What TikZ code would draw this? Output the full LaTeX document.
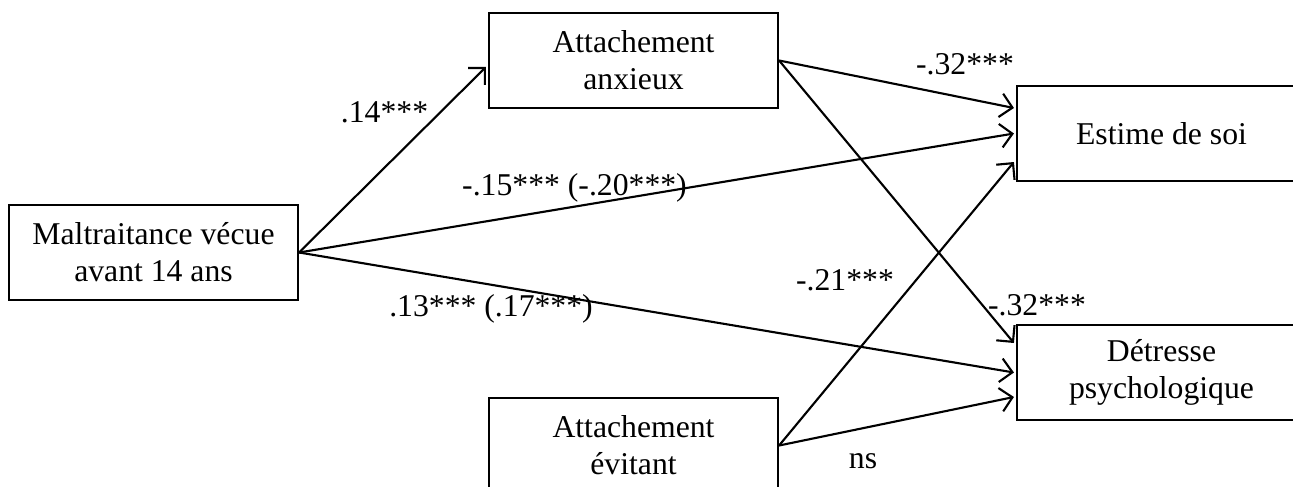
\documentclass[tikz,border=0pt]{standalone}
\usepackage{fontspec}
\setmainfont{Liberation Serif}
\usetikzlibrary{arrows.meta,calc}

\begin{document}
\begin{tikzpicture}[x=0.3785pt,y=-0.3785pt,
    box/.style={draw,line width=0.8pt,minimum width=109.4pt,minimum height=36pt,
        align=center,inner sep=0pt,font=\fontsize{12}{14}\selectfont},
    lbl/.style={anchor=base,inner sep=0pt,font=\fontsize{12}{14}\selectfont},
    >={Straight Barb[length=4.5pt,width=9pt]}]
    \useasboundingbox (0,0) rectangle (1293,486);

    % Variables
    \node[box] (mal) at (153.5,252.5) {Maltraitance vécue\\avant 14 ans};
    \node[box] (anx) at (633.5,60.5) {Attachement\\anxieux};
    \node[box] (evi) at (633.5,445.5) {Attachement\\évitant};
    \node[box] (est) at (1161.5,133.5) {Estime de soi};
    \node[box] (det) at (1161.5,372.5) {Détresse\\psychologique};

    % Paths
    \draw[->,line width=0.8pt] (mal.east) -- ($(anx.west)+(-2,6.5)$);
    \draw[->,line width=0.8pt] (mal.east) -- ($(est.west)+(-2,0)$);
    \draw[->,line width=0.8pt] (mal.east) -- ($(det.west)+(-2,0)$);
    \draw[->,line width=0.8pt] (anx.east) -- ($(est.west)+(-2,-25.5)$);
    \draw[->,line width=0.8pt] (anx.east) -- ($(det.west)+(-2,-29.5)$);
    \draw[->,line width=0.8pt] (evi.east) -- ($(est.west)+(-2,28.5)$);
    \draw[->,line width=0.8pt] (evi.east) -- ($(det.west)+(-2,24.5)$);

    % Coefficients
    \node[lbl] (c1) at (384.5,123) {.14***};
    \node[lbl] (c2) at (574.5,195) {-.15*** (-.20***)};
    \node[lbl] (c3) at (491,316) {.13*** (.17***)};
    \node[lbl] (c4) at (965,75) {-.32***};
    \node[lbl] (c5) at (1037,315) {-.32***};
    \node[lbl] (c6) at (845,290) {-.21***};
    \node[lbl] (c7) at (863,468) {ns};
\end{tikzpicture}
\end{document}
